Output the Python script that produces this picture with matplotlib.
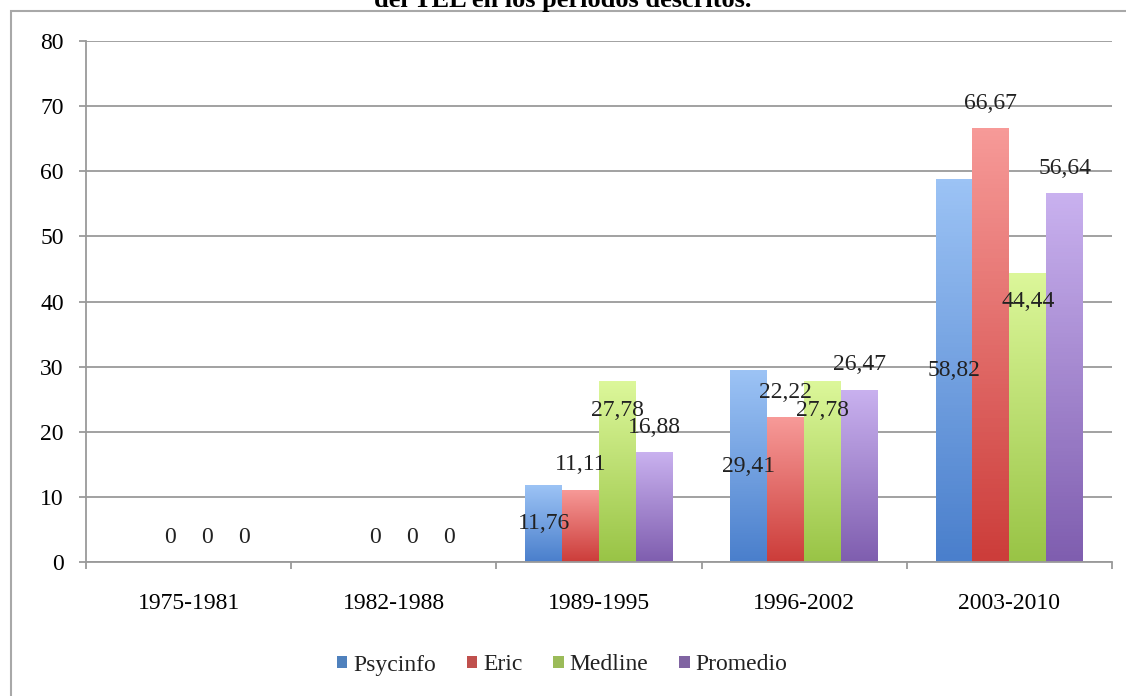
import numpy as np
import matplotlib.pyplot as plt
from matplotlib.patches import Rectangle
from matplotlib.colors import LinearSegmentedColormap

periodos = ["1975-1981", "1982-1988", "1989-1995", "1996-2002", "2003-2010"]
psycinfo = [0, 0, 11.76, 29.41, 58.82]
eric = [0, 0, 11.11, 22.22, 66.67]
medline = [0, 0, 27.78, 27.78, 44.44]
promedio = [0, 0, 16.88, 26.47, 56.64]

series = [("Psycinfo", psycinfo), ("Eric", eric), ("Medline", medline), ("Promedio", promedio)]
# (top colour, bottom colour, legend colour)
colores = [("#9cc3f5", "#4a7fcc", "#4f81bd"),
           ("#f79a98", "#cc3d3a", "#c0504d"),
           ("#dcf79a", "#99c446", "#9bbb59"),
           ("#c9b1ef", "#7f5eaf", "#8064a2")]

plt.rcParams['font.family'] = ['Liberation Serif', 'DejaVu Serif']
fs = 17

fig = plt.figure(figsize=(11.26, 6.96), dpi=100)
ax = fig.add_axes([86 / 1126, 1 - 562 / 696, (1112 - 86) / 1126, (562 - 41) / 696])

# outer frame and cut-off title
fig.patches.append(Rectangle((11 / 1126, -0.05), 1.2, 1 - 11 / 696 + 0.05,
                             transform=fig.transFigure, fill=False,
                             edgecolor="#a8a8a8", linewidth=1.5))
fig.text(0.5, 1.0, "del TEL en los periodos descritos.", ha="center", va="center",
         fontsize=19, fontweight="bold")

x = np.arange(len(periodos))
w = 0.18
for i, (nombre, vals) in enumerate(series):
    top, bottom, leg = colores[i]
    cmap = LinearSegmentedColormap.from_list(nombre, [bottom, top])
    bars = ax.bar(x + (i - 1.5) * w, vals, w, color=leg, label=nombre, zorder=2)
    for b in bars:
        h = b.get_height()
        if h <= 0:
            continue
        b.set_facecolor("none")
        grad = np.linspace(0, 1, 100).reshape(-1, 1)
        im = ax.imshow(grad, cmap=cmap, origin="lower", aspect="auto", zorder=2,
                       extent=[b.get_x(), b.get_x() + b.get_width(), 0, h])
        im.set_clip_path(b)
    # data labels, placed like the original
    for xi, v in zip(x + (i - 1.5) * w, vals):
        lab = f"{v:.2f}".replace(".", ",") if v else "0"
        if nombre == "Psycinfo":
            if v == 0:
                continue
            y = v / 2
        elif nombre == "Medline":
            y = v - 4.5 if v else 3.8
        else:
            y = v + 3.8
        ax.text(xi, y, lab, ha="center", va="center", fontsize=fs, color="#222222", zorder=4)

ax.set_xlim(-0.5, len(periodos) - 0.5)
ax.set_ylim(0, 80)
ax.set_yticks(range(0, 81, 10))
ax.yaxis.grid(True, color="#9a9a9a", linewidth=1.3, zorder=0)
ax.set_axisbelow(True)
ax.set_xticks(x)
ax.set_xticklabels(periodos, fontsize=fs)
ax.set_xticks(np.arange(len(periodos) + 1) - 0.5, minor=True)
ax.tick_params(axis="x", which="major", length=0, pad=22)
ax.tick_params(axis="x", which="minor", length=5, color="#9a9a9a", width=1.3)
ax.tick_params(axis="y", length=5, color="#9a9a9a", width=1.3, labelsize=fs, pad=11)
for s in ["top", "right"]:
    ax.spines[s].set_visible(False)
for s in ["left", "bottom"]:
    ax.spines[s].set_color("#9a9a9a")
    ax.spines[s].set_linewidth(1.3)

lg = ax.legend(loc="center", bbox_to_anchor=(562 / 1126, (696 - 665) / 696),
               bbox_transform=fig.transFigure, ncol=4, frameon=False, fontsize=fs,
               handlelength=0.45, handleheight=0.45, handletextpad=0.25, columnspacing=1.3)
for t in lg.get_texts():
    t.set_fontfamily(['Liberation Serif', 'DejaVu Serif'])
    t.set_color("#222222")

fig.savefig("out.png", dpi=100)
